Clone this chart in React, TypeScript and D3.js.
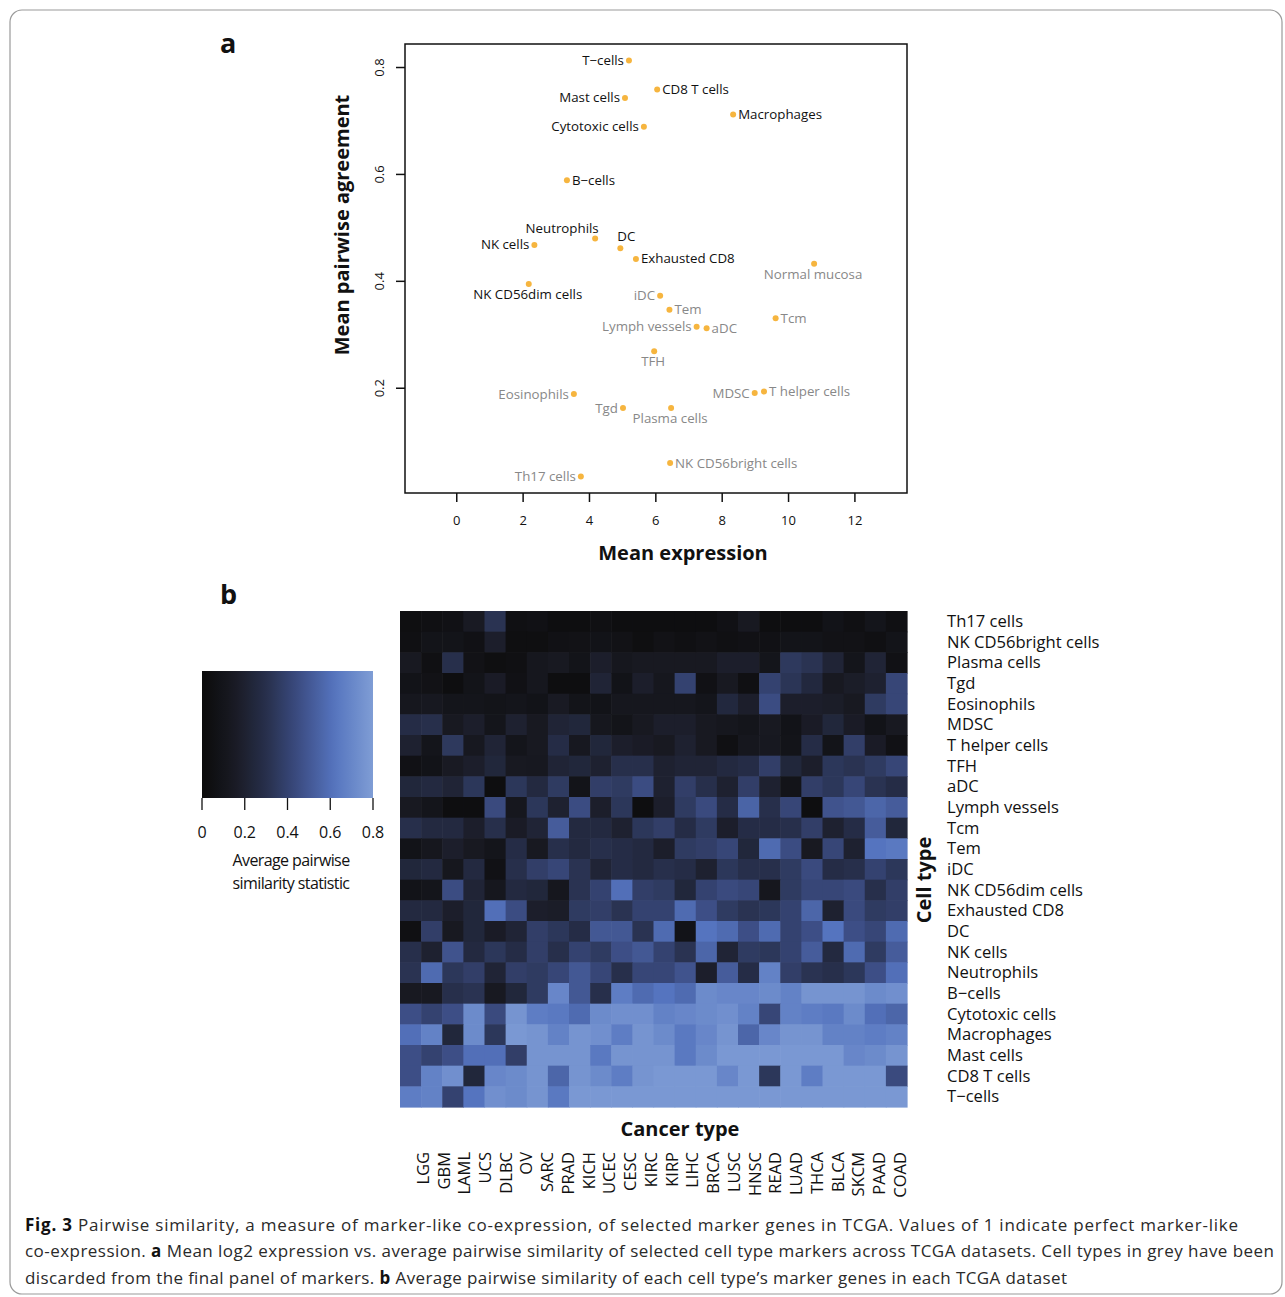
import React from "react";
import * as d3 from "d3";

// panel a: mean log2 expression vs mean pairwise agreement
const cellNames = [
  "T\u2212cells", "Mast cells", "CD8 T cells", "Macrophages", "Cytotoxic cells", "B\u2212cells",
  "Neutrophils", "NK cells", "DC", "Exhausted CD8", "Normal mucosa", "NK CD56dim cells",
  "iDC", "Tem", "Lymph vessels", "aDC", "Tcm", "TFH", "MDSC", "T helper cells",
  "Eosinophils", "Tgd", "Plasma cells", "NK CD56bright cells", "Th17 cells",
];
const meanExpression = [
  5.19, 5.07, 6.04, 8.33, 5.64, 3.32, 4.17, 2.34, 4.93, 5.40, 10.77, 2.17,
  6.13, 6.41, 7.23, 7.53, 9.61, 5.95, 8.98, 9.26, 3.53, 5.01, 6.46, 6.43, 3.74,
];
const pairwiseAgreement = [
  0.813, 0.743, 0.759, 0.712, 0.689, 0.589, 0.480, 0.468, 0.462, 0.442, 0.433, 0.395,
  0.373, 0.347, 0.315, 0.312, 0.331, 0.269, 0.191, 0.194, 0.189, 0.163, 0.163, 0.060, 0.035,
];
const keptInPanel = [
  true, true, true, true, true, true, true, true, true, true, false, true,
  false, false, false, false, false, false, false, false, false, false, false, false, false,
];
const xTicks = [0, 2, 4, 6, 8, 10, 12];
const yTicks = [0.2, 0.4, 0.6, 0.8];

// label placement for the scatter (r, l, b, or custom)
const labelPos: Record<string, string> = {
  "Neutrophils": "tl", "DC": "tr", "Normal mucosa": "b", "NK CD56dim cells": "b",
  "TFH": "b", "Plasma cells": "b",
  "T\u2212cells": "l", "Mast cells": "l", "Cytotoxic cells": "l", "NK cells": "l", "iDC": "l",
  "Lymph vessels": "l", "MDSC": "l", "Eosinophils": "l", "Tgd": "l", "Th17 cells": "l",
};

// panel b: heatmap
const cancerTypes = [
  "LGG", "GBM", "LAML", "UCS", "DLBC", "OV", "SARC", "PRAD", "KICH", "UCEC", "CESC", "KIRC",
  "KIRP", "LIHC", "BRCA", "LUSC", "HNSC", "READ", "LUAD", "THCA", "BLCA", "SKCM", "PAAD", "COAD",
];
const cellTypes = [
  "Th17 cells", "NK CD56bright cells", "Plasma cells", "Tgd", "Eosinophils", "MDSC",
  "T helper cells", "TFH", "aDC", "Lymph vessels", "Tcm", "Tem", "iDC", "NK CD56dim cells",
  "Exhausted CD8", "DC", "NK cells", "Neutrophils", "B\u2212cells", "Cytotoxic cells",
  "Macrophages", "Mast cells", "CD8 T cells", "T\u2212cells",
];
const similarity = [
  [0.04, 0.05, 0.06, 0.15, 0.32, 0.05, 0.06, 0.03, 0.03, 0.05, 0.03, 0.03, 0.03, 0.03, 0.03, 0.06, 0.14, 0.03, 0.03, 0.03, 0.08, 0.05, 0.10, 0.05],
  [0.05, 0.09, 0.09, 0.06, 0.18, 0.04, 0.04, 0.06, 0.07, 0.08, 0.07, 0.04, 0.07, 0.05, 0.07, 0.05, 0.06, 0.06, 0.09, 0.09, 0.07, 0.07, 0.05, 0.09],
  [0.14, 0.05, 0.30, 0.07, 0.04, 0.05, 0.12, 0.14, 0.09, 0.18, 0.12, 0.14, 0.14, 0.14, 0.14, 0.18, 0.18, 0.10, 0.35, 0.32, 0.22, 0.10, 0.22, 0.06],
  [0.08, 0.07, 0.03, 0.09, 0.16, 0.06, 0.12, 0.03, 0.03, 0.22, 0.08, 0.18, 0.12, 0.40, 0.06, 0.14, 0.05, 0.40, 0.33, 0.25, 0.14, 0.17, 0.20, 0.42],
  [0.12, 0.13, 0.10, 0.10, 0.09, 0.10, 0.08, 0.15, 0.09, 0.08, 0.12, 0.12, 0.12, 0.12, 0.10, 0.25, 0.18, 0.45, 0.18, 0.18, 0.17, 0.14, 0.36, 0.42],
  [0.28, 0.30, 0.14, 0.18, 0.10, 0.20, 0.14, 0.22, 0.24, 0.12, 0.09, 0.14, 0.18, 0.18, 0.14, 0.12, 0.10, 0.14, 0.08, 0.16, 0.24, 0.16, 0.08, 0.14],
  [0.20, 0.10, 0.35, 0.13, 0.22, 0.10, 0.14, 0.28, 0.13, 0.24, 0.18, 0.16, 0.14, 0.20, 0.14, 0.05, 0.12, 0.13, 0.09, 0.28, 0.09, 0.38, 0.16, 0.06],
  [0.06, 0.08, 0.15, 0.18, 0.24, 0.14, 0.13, 0.22, 0.24, 0.20, 0.30, 0.30, 0.20, 0.22, 0.22, 0.26, 0.28, 0.38, 0.24, 0.18, 0.34, 0.32, 0.36, 0.42],
  [0.24, 0.26, 0.22, 0.34, 0.03, 0.34, 0.26, 0.36, 0.09, 0.38, 0.36, 0.45, 0.20, 0.38, 0.30, 0.20, 0.38, 0.20, 0.09, 0.38, 0.34, 0.42, 0.32, 0.28],
  [0.14, 0.10, 0.03, 0.03, 0.44, 0.12, 0.34, 0.20, 0.45, 0.18, 0.34, 0.03, 0.18, 0.36, 0.44, 0.28, 0.55, 0.30, 0.42, 0.03, 0.48, 0.50, 0.56, 0.52],
  [0.30, 0.26, 0.26, 0.18, 0.30, 0.16, 0.22, 0.52, 0.26, 0.26, 0.20, 0.34, 0.38, 0.28, 0.36, 0.18, 0.28, 0.28, 0.30, 0.38, 0.20, 0.28, 0.52, 0.24],
  [0.08, 0.12, 0.18, 0.14, 0.10, 0.28, 0.14, 0.30, 0.26, 0.30, 0.28, 0.26, 0.18, 0.36, 0.38, 0.42, 0.24, 0.58, 0.45, 0.14, 0.42, 0.20, 0.62, 0.64],
  [0.24, 0.26, 0.12, 0.26, 0.06, 0.30, 0.38, 0.42, 0.32, 0.22, 0.28, 0.26, 0.30, 0.28, 0.20, 0.34, 0.30, 0.30, 0.36, 0.44, 0.28, 0.30, 0.40, 0.34],
  [0.08, 0.10, 0.45, 0.22, 0.12, 0.26, 0.24, 0.12, 0.32, 0.40, 0.60, 0.38, 0.36, 0.24, 0.40, 0.44, 0.42, 0.12, 0.36, 0.42, 0.42, 0.44, 0.30, 0.38],
  [0.26, 0.26, 0.18, 0.24, 0.60, 0.45, 0.18, 0.17, 0.36, 0.38, 0.32, 0.40, 0.40, 0.58, 0.46, 0.36, 0.32, 0.34, 0.40, 0.56, 0.20, 0.44, 0.36, 0.38],
  [0.05, 0.38, 0.14, 0.24, 0.16, 0.22, 0.38, 0.34, 0.28, 0.50, 0.50, 0.32, 0.58, 0.08, 0.62, 0.58, 0.46, 0.58, 0.40, 0.46, 0.62, 0.46, 0.42, 0.58],
  [0.30, 0.20, 0.48, 0.26, 0.34, 0.28, 0.38, 0.30, 0.40, 0.36, 0.46, 0.50, 0.40, 0.32, 0.56, 0.22, 0.36, 0.34, 0.40, 0.52, 0.26, 0.58, 0.36, 0.52],
  [0.32, 0.58, 0.34, 0.38, 0.22, 0.38, 0.36, 0.42, 0.50, 0.42, 0.30, 0.42, 0.42, 0.48, 0.18, 0.52, 0.28, 0.68, 0.38, 0.32, 0.30, 0.34, 0.46, 0.60],
  [0.14, 0.14, 0.30, 0.32, 0.14, 0.24, 0.36, 0.70, 0.50, 0.30, 0.66, 0.58, 0.62, 0.58, 0.72, 0.70, 0.70, 0.72, 0.68, 0.76, 0.76, 0.76, 0.72, 0.74],
  [0.46, 0.40, 0.46, 0.72, 0.44, 0.76, 0.66, 0.64, 0.58, 0.72, 0.74, 0.74, 0.68, 0.70, 0.72, 0.74, 0.68, 0.42, 0.68, 0.66, 0.64, 0.72, 0.60, 0.56],
  [0.60, 0.68, 0.24, 0.72, 0.34, 0.78, 0.76, 0.68, 0.76, 0.74, 0.66, 0.76, 0.72, 0.64, 0.70, 0.76, 0.56, 0.70, 0.76, 0.76, 0.68, 0.68, 0.66, 0.68],
  [0.46, 0.40, 0.46, 0.60, 0.60, 0.38, 0.76, 0.76, 0.76, 0.64, 0.76, 0.76, 0.76, 0.64, 0.72, 0.78, 0.78, 0.78, 0.78, 0.78, 0.78, 0.70, 0.72, 0.76],
  [0.46, 0.68, 0.74, 0.24, 0.70, 0.72, 0.76, 0.56, 0.76, 0.72, 0.66, 0.76, 0.78, 0.78, 0.78, 0.70, 0.78, 0.34, 0.78, 0.66, 0.78, 0.78, 0.78, 0.44],
  [0.66, 0.68, 0.40, 0.62, 0.74, 0.72, 0.76, 0.64, 0.78, 0.78, 0.78, 0.78, 0.78, 0.78, 0.78, 0.78, 0.78, 0.78, 0.78, 0.78, 0.78, 0.78, 0.78, 0.78],
];
const legendTicks = [0, 0.2, 0.4, 0.6, 0.8];

const FONT = "'Open Sans', 'DejaVu Sans', sans-serif";

const colorScale = d3.scaleLinear<string>()
  .domain([0, 0.15, 0.3, 0.45, 0.62, 0.8])
  .range(["#0b0b0b", "#191a23", "#272f4b", "#3b4c82", "#5574bf", "#7f9dd5"])
  .clamp(true);

function Scatter() {
  const x = d3.scaleLinear().domain([-1.56, 13.57]).range([405, 907]);
  const y = d3.scaleLinear().domain([0.004, 0.844]).range([493, 44]);

  return (
    <g fontFamily={FONT}>
      <rect x={405} y={44} width={502} height={449} fill="none" stroke="#111" strokeWidth={1.5} />
      {xTicks.map(t => (
        <g key={t}>
          <line x1={x(t)} x2={x(t)} y1={493} y2={502} stroke="#111" strokeWidth={1.5} />
          <text x={x(t)} y={525} fontSize={13} textAnchor="middle" fill="#111">{t}</text>
        </g>
      ))}
      {yTicks.map(t => (
        <g key={t}>
          <line x1={405} x2={396} y1={y(t)} y2={y(t)} stroke="#111" strokeWidth={1.5} />
          <text transform={`translate(384,${y(t)}) rotate(-90)`} fontSize={13} textAnchor="middle" fill="#111">{t}</text>
        </g>
      ))}
      <text x={683} y={560} fontSize={20} fontWeight="bold" textAnchor="middle" fill="#111">Mean expression</text>
      <text transform="translate(349,225) rotate(-90)" fontSize={20} fontWeight="bold" textAnchor="middle" fill="#111">Mean pairwise agreement</text>
      {cellNames.map((name, i) => {
        const cx = x(meanExpression[i]);
        const cy = y(pairwiseAgreement[i]);
        const pos = labelPos[name] || "r";
        let tx = cx + 5, ty = cy + 4.5, anchor = "start";
        if (pos === "l") { tx = cx - 5; anchor = "end"; }
        if (pos === "b") { tx = cx - 1; ty = cy + 15; anchor = "middle"; }
        if (pos === "tl") { tx = cx - 33; ty = cy - 6; anchor = "middle"; }
        if (pos === "tr") { tx = cx - 3; ty = cy - 7; anchor = "start"; }
        return (
          <g key={name}>
            <circle cx={cx} cy={cy} r={3} fill="#f6b53f" />
            <text x={tx} y={ty} fontSize={13.3} textAnchor={anchor} fill={keptInPanel[i] ? "#111" : "#888"}>{name}</text>
          </g>
        );
      })}
    </g>
  );
}

function Heatmap() {
  const x = d3.scaleBand<string>().domain(cancerTypes).range([400, 907]);
  const y = d3.scaleBand<string>().domain(cellTypes).range([611, 1107]);
  const labelX = d3.scalePoint<string>().domain(cancerTypes).range([423, 900]);
  const legendX = d3.scaleLinear().domain([0, 0.8]).range([202, 373]);
  const stops = d3.range(0, 1.0001, 0.05);

  return (
    <g fontFamily={FONT}>
      {similarity.map((row, r) => row.map((v, c) => (
        <rect key={r + "-" + c} x={x(cancerTypes[c])} y={y(cellTypes[r])}
          width={x.bandwidth() + 0.6} height={y.bandwidth() + 0.6} fill={colorScale(v)} />
      )))}
      {cellTypes.map(ct => (
        <text key={ct} x={947} y={(y(ct) as number) + y.bandwidth() / 2} dy="0.35em" fontSize={16.6} fill="#111">{ct}</text>
      ))}
      {cancerTypes.map(ct => (
        <text key={ct} transform={`translate(${labelX(ct)},1152) rotate(-90)`} dy="0.35em" fontSize={16.5} textAnchor="end" fill="#111">{ct}</text>
      ))}
      <text x={680} y={1136} fontSize={20} fontWeight="bold" textAnchor="middle" fill="#111">Cancer type</text>
      <text transform="translate(931,880) rotate(-90)" fontSize={20} fontWeight="bold" textAnchor="middle" fill="#111">Cell type</text>

      <defs>
        <linearGradient id="simGrad" x1="0" x2="1" y1="0" y2="0">
          {stops.map(s => (
            <stop key={s} offset={s} stopColor={colorScale(s * 0.8)} />
          ))}
        </linearGradient>
      </defs>
      <rect x={202} y={671} width={171} height={127} fill="url(#simGrad)" />
      {legendTicks.map(t => (
        <g key={t}>
          <line x1={legendX(t)} x2={legendX(t)} y1={798} y2={810} stroke="#111" strokeWidth={1.3} />
          <text x={legendX(t)} y={838} fontSize={16} textAnchor="middle" fill="#111">{t === 0 ? "0" : d3.format(".1f")(t)}</text>
        </g>
      ))}
      <text x={291} y={866} fontSize={16} textAnchor="middle" fill="#111" letterSpacing={-0.6}>Average pairwise</text>
      <text x={291} y={889} fontSize={16} textAnchor="middle" fill="#111" letterSpacing={-0.6}>similarity statistic</text>
    </g>
  );
}

export default function App() {
  return (
    <svg width={1285} height={1297} style={{ position: "absolute", left: 0, top: 0, background: "#fff" }}>
      <rect x={10} y={10} width={1272} height={1284} rx={12} fill="none" stroke="#9a9a9a" strokeWidth={1.2} />
      <text x={220} y={53} fontFamily={FONT} fontSize={27} fontWeight="bold" fill="#111">a</text>
      <text x={220} y={604} fontFamily={FONT} fontSize={27} fontWeight="bold" fill="#111">b</text>
      <Scatter />
      <Heatmap />
      <g fontFamily={FONT} fontSize={17} fill="#2a2a2a">
        <text x={25} y={1231} textLength={1213} lengthAdjust="spacing">
          <tspan fontWeight="bold" fill="#111">Fig. 3</tspan> Pairwise similarity, a measure of marker-like co-expression, of selected marker genes in TCGA. Values of 1 indicate perfect marker-like
        </text>
        <text x={25} y={1257} textLength={1249} lengthAdjust="spacing">
          co-expression. <tspan fontWeight="bold" fill="#111">a</tspan> Mean log2 expression vs. average pairwise similarity of selected cell type markers across TCGA datasets. Cell types in grey have been
        </text>
        <text x={25} y={1284} textLength={1042} lengthAdjust="spacing">
          discarded from the final panel of markers. <tspan fontWeight="bold" fill="#111">b</tspan> Average pairwise similarity of each cell type’s marker genes in each TCGA dataset
        </text>
      </g>
    </svg>
  );
}
